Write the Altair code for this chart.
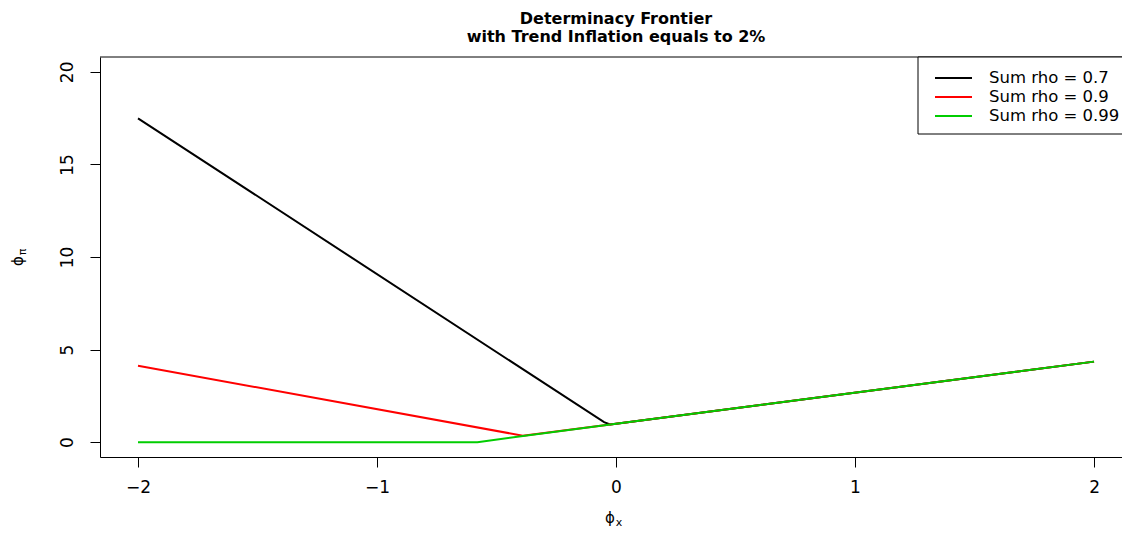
import altair as alt
import pandas as pd

# ---- data ----
series_names = ["Sum rho = 0.7", "Sum rho = 0.9", "Sum rho = 0.99"]
series_colors = ["#000000", "#FF0000", "#00CD00"]

black_x = [-2.0, -0.05, -0.025, 0.0, 2.0]
black_y = [17.49, 1.08, 0.96, 1.0, 4.35]
red_x = [-2.0, -0.39, 0.0, 2.0]
red_y = [4.13, 0.35, 1.0, 4.35]
green_x = [-2.0, -0.58, 0.0, 2.0]
green_y = [0.0, 0.0, 1.0, 4.35]

x_ticks = [-2, -1, 0, 1, 2]
y_ticks = [0, 5, 10, 15, 20]
title_lines = ["Determinacy Frontier", "with Trend Inflation equals to 2%"]
x_label = ["\u03d5", "x"]
y_label = ["\u03d5", "\u03c0"]

rows = []
for name, xs, ys in zip(series_names, [black_x, red_x, green_x], [black_y, red_y, green_y]):
    for i, (xv, yv) in enumerate(zip(xs, ys)):
        rows.append({"series": name, "phi_x": xv, "phi_pi": yv, "order": i})
df = pd.DataFrame(rows)
leg_df = pd.DataFrame({"series": series_names})
dummy = pd.DataFrame({"a": [0]})

W, H = 1022, 400
FONT = "DejaVu Sans"

color = alt.Color("series:N",
                  scale=alt.Scale(domain=series_names, range=series_colors),
                  legend=None)

lines = alt.Chart(df).mark_line(strokeWidth=2, clip=True).encode(
    x=alt.X("phi_x:Q",
            scale=alt.Scale(domain=[-2.159, 2.117], nice=False, zero=False),
            axis=alt.Axis(values=x_ticks, title=None, grid=False, tickSize=10,
                          labelPadding=12, format="d", labelFont=FONT,
                          labelFontSize=17, labelColor="black",
                          domainColor="black", tickColor="black",
                          labelFlush=False)),
    y=alt.Y("phi_pi:Q",
            scale=alt.Scale(domain=[-0.8, 20.8], nice=False, zero=False),
            axis=alt.Axis(values=y_ticks, title=None, grid=False, tickSize=10,
                          labelAngle=270, labelAlign="center",
                          labelBaseline="alphabetic", labelPadding=18,
                          format="d", labelFont=FONT, labelFontSize=17,
                          labelColor="black", domainColor="black",
                          tickColor="black")),
    color=color,
    order="order:Q",
)

top_border = alt.Chart(dummy).mark_rule(color="black", strokeWidth=1).encode(
    x=alt.value(0), x2=alt.value(W), y=alt.value(0))

legend_box = alt.Chart(dummy).mark_rect(fill="white", stroke="black", strokeWidth=1).encode(
    x=alt.value(818), x2=alt.value(1200), y=alt.value(0), y2=alt.value(77))

leg_y = alt.Y("series:N",
              scale=alt.Scale(type="point", domain=series_names, range=[21, 59], padding=0),
              axis=None)

legend_lines = alt.Chart(leg_df).mark_rule(strokeWidth=2).encode(
    x=alt.value(835), x2=alt.value(872), y=leg_y, color=color)

legend_text = alt.Chart(leg_df).mark_text(
    align="left", baseline="middle", font=FONT, fontSize=16.5, color="black"
).encode(x=alt.value(889), y=leg_y, text="series:N")

title1 = alt.Chart(dummy).mark_text(
    align="center", baseline="alphabetic", font=FONT, fontSize=16,
    fontWeight="bold", color="black", text=title_lines[0]
).encode(x=alt.value(516), y=alt.value(-33))

title2 = alt.Chart(dummy).mark_text(
    align="center", baseline="alphabetic", font=FONT, fontSize=16,
    fontWeight="bold", color="black", text=title_lines[1]
).encode(x=alt.value(516), y=alt.value(-15))

xl_main = alt.Chart(dummy).mark_text(
    align="center", baseline="middle", font=FONT, fontSize=15, color="black",
    text=x_label[0]).encode(x=alt.value(510), y=alt.value(461))
xl_sub = alt.Chart(dummy).mark_text(
    align="center", baseline="middle", font=FONT, fontSize=11, color="black",
    text=x_label[1]).encode(x=alt.value(519), y=alt.value(466))

yl_main = alt.Chart(dummy).mark_text(
    align="center", baseline="middle", font=FONT, fontSize=15, color="black",
    angle=270, text=y_label[0]).encode(x=alt.value(-82), y=alt.value(204))
yl_sub = alt.Chart(dummy).mark_text(
    align="center", baseline="middle", font=FONT, fontSize=11, color="black",
    angle=270, text=y_label[1]).encode(x=alt.value(-77), y=alt.value(195))

chart = alt.layer(
    lines, top_border, legend_box, legend_lines, legend_text,
    title1, title2, xl_main, xl_sub, yl_main, yl_sub
).resolve_scale(
    y="independent"
).properties(
    width=W, height=H,
    autosize=alt.AutoSizeParams(type="none"),
    padding={"left": 92, "top": 49, "right": 0, "bottom": 72},
    background="white",
).configure_view(stroke=None)

chart.save("out.html", embed_options={"renderer": "svg", "actions": False})
